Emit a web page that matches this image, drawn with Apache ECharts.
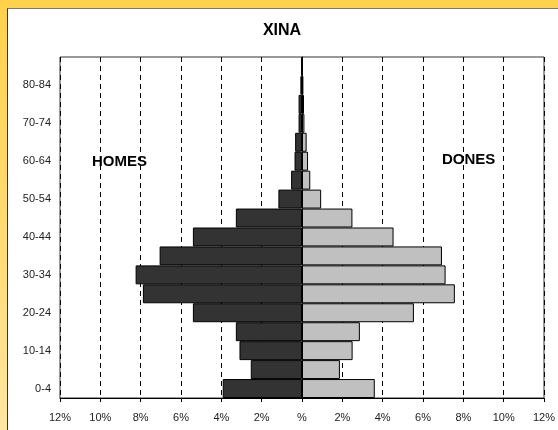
<!DOCTYPE html>
<html>
<head>
<meta charset="utf-8">
<script src="https://cdn.jsdelivr.net/npm/echarts@6/dist/echarts.min.js"></script>
<style>
  html, body { margin: 0; padding: 0; overflow: hidden; }
  body {
    width: 558px; height: 430px; position: relative;
    background: linear-gradient(180deg, #FFD24C 0%, #FFDC78 60%, #FFE6A3 100%);
  }
  #panel {
    position: absolute; left: 7px; top: 8px; right: 0; bottom: 0;
    background: #fff; border-left: 1px solid #333; border-top: 1px solid #777;
  }
  #chart { position: absolute; left: 0; top: 0; width: 558px; height: 430px; }
</style>
</head>
<body>
<div id="panel"></div>
<div id="chart"></div>
<script>
// grups d'edat (de baix a dalt)
var ageGroups = ['0-4', '5-9', '10-14', '15-19', '20-24', '25-29', '30-34', '35-39', '40-44',
                 '45-49', '50-54', '55-59', '60-64', '65-69', '70-74', '75-79', '80-84', '85+'];
// % de població
var homes = [3.93, 2.54, 3.10, 3.28, 5.41, 7.89, 8.25, 7.06, 5.41,
             3.28, 1.17, 0.54, 0.37, 0.34, 0.17, 0.17, 0.08, 0.04];
var dones = [3.61, 1.88, 2.51, 2.87, 5.55, 7.58, 7.12, 6.94, 4.54,
             2.50, 0.95, 0.41, 0.30, 0.23, 0.12, 0.10, 0.07, 0.04];

var font = 'Arial, "Liberation Sans", sans-serif';
var chart = echarts.init(document.getElementById('chart'));
var option = {
    animation: false,
    backgroundColor: 'transparent',
    graphic: [
        { type: 'text', x: 282, y: 31, style: { text: 'XINA', font: 'bold 16px ' + font, fill: '#000', textAlign: 'center', textVerticalAlign: 'middle' } },
        { type: 'text', x: 92, y: 162, style: { text: 'HOMES', font: 'bold 15px ' + font, fill: '#000', textVerticalAlign: 'middle' } },
        { type: 'text', x: 442, y: 160, style: { text: 'DONES', font: 'bold 15px ' + font, fill: '#000', textVerticalAlign: 'middle' } }
    ],
    grid: {
        left: 60, right: 7, top: 57, bottom: 32,
        show: true, borderColor: '#333', borderWidth: 1, backgroundColor: 'transparent'
    },
    xAxis: {
        type: 'value',
        min: -12, max: 12, interval: 2,
        axisLine: { show: true, lineStyle: { color: '#000' } },
        axisTick: { show: true, length: 4, lineStyle: { color: '#000' } },
        axisLabel: {
            color: '#222', fontSize: 11, fontFamily: font, margin: 14,
            formatter: function (v) { return Math.abs(v) < 1e-9 ? '%' : Math.abs(v) + '%'; }
        },
        splitLine: { show: true, lineStyle: { color: '#000', type: [5, 4], width: 1 } }
    },
    yAxis: {
        type: 'category',
        data: ageGroups,
        axisLine: { show: true, lineStyle: { color: '#000' } },
        axisTick: { show: false },
        axisLabel: { interval: 1, color: '#222', fontSize: 11, fontFamily: font, margin: 9 }
    },
    series: [
        {
            name: 'Homes', type: 'bar', stack: 'pir',
            barCategoryGap: '0%',
            data: homes.map(function (v) { return -v; }),
            itemStyle: { color: '#333333', borderColor: '#000', borderWidth: 1 }
        },
        {
            name: 'Dones', type: 'bar', stack: 'pir',
            barCategoryGap: '0%',
            data: dones,
            itemStyle: { color: '#C0C0C0', borderColor: '#000', borderWidth: 1 }
        }
    ]
};
option && chart.setOption(option);
</script>
</body>
</html>
